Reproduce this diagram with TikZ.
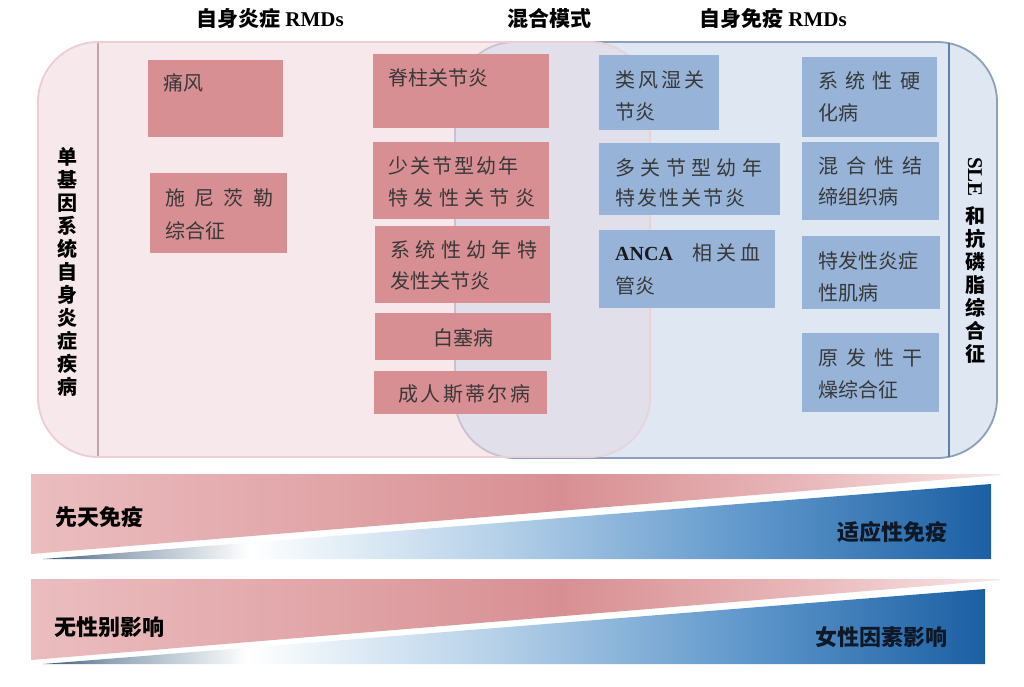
\documentclass[tikz,border=0pt]{standalone}
\usepackage{fontspec}
\setmainfont{Liberation Serif}
\newfontfamily\cjk{Noto Sans CJK SC}
\usetikzlibrary{calc}

\definecolor{regpink}{HTML}{F2D9DE}
\definecolor{regpinkb}{HTML}{EDCDD2}
\definecolor{regblue}{HTML}{DFE7F2}
\definecolor{regblueb}{HTML}{8C9FBC}
\definecolor{overlapc}{HTML}{DCE0EC}
\definecolor{pdivc}{HTML}{C7A3A8}
\definecolor{bdivc}{HTML}{5E7FA8}
\definecolor{boxpink}{HTML}{D88F93}
\definecolor{boxblue}{HTML}{97B4D8}
\definecolor{txtgray}{HTML}{383838}
\definecolor{bandtxt}{HTML}{0E1826}
\definecolor{pb1}{HTML}{EBBDBF}
\definecolor{pb2}{HTML}{E2A7AA}
\definecolor{pb3}{HTML}{D88F93}
\definecolor{pb4}{HTML}{E8B7B9}
\definecolor{pb5}{HTML}{F8E6E7}
\definecolor{bb1}{HTML}{3E5A78}
\definecolor{bb2}{HTML}{8FA3B5}
\definecolor{bb3}{HTML}{FFFFFF}
\definecolor{bb4}{HTML}{B5D0E8}
\definecolor{bb5}{HTML}{5F97CB}
\definecolor{bb6}{HTML}{1B5FA3}

\pgfdeclarehorizontalshading{pinkband}{100bp}{color(0bp)=(pb1); color(25bp)=(pb1); color(38.9bp)=(pb2); color(52.4bp)=(pb3); color(64.8bp)=(pb4); color(75bp)=(pb5); color(100bp)=(pb5)}
\pgfdeclarehorizontalshading{blueband}{100bp}{color(0bp)=(bb1); color(25bp)=(bb1); color(28.5bp)=(bb2); color(35.9bp)=(bb3); color(49.1bp)=(bb4); color(62.3bp)=(bb5); color(75bp)=(bb6); color(100bp)=(bb6)}

\newcommand\bxf{\cjk\fontsize{20}{24}\selectfont}
\newcommand\ttlf{\fontsize{21}{24}\selectfont\bfseries}
\newcommand\bandf{\cjk\bfseries\fontsize{22}{26}\selectfont}
\newcommand\vtf{\cjk\bfseries\fontsize{20}{23}\selectfont}
\newcommand\spr[2]{\makebox[#1pt][s]{#2}}

\begin{document}
\begin{tikzpicture}[x=1pt,y=-1pt,
  pbox/.style={fill=boxpink,draw=none,inner sep=0pt,outer sep=0pt,anchor=north west},
  bbox/.style={fill=boxblue,draw=none,inner sep=0pt,outer sep=0pt,anchor=north west},
  bt/.style={anchor=base west,inner sep=0pt,text=txtgray,font=\bxf},
  btc/.style={anchor=base,inner sep=0pt,text=txtgray,font=\bxf},
  ttl/.style={anchor=base,inner sep=0pt,text=black,font=\ttlf},
  bandl/.style={anchor=base west,inner sep=0pt,font=\bandf,text=black},
  bandr/.style={anchor=base east,inner sep=0pt,font=\bandf,text=bandtxt},
  region/.style={line width=1.8pt,rounded corners=60pt},
  pdiv/.style={draw=pdivc,line width=1.2pt},
  bdiv/.style={draw=bdivc,line width=1.2pt},
]
\useasboundingbox (0,0) rectangle (1024,686);
\fill[white] (0,0) rectangle (1024,686);

% titles
\node[ttl] (t1) at (270,26) {{\cjk\bfseries 自身炎症} RMDs};
\node[ttl] (t2) at (549,26) {{\cjk\bfseries 混合模式}};
\node[ttl] (t3) at (773,26) {{\cjk\bfseries 自身免疫} RMDs};

% regions
\draw[region,fill=regblue,draw=regblueb] (455,42) rectangle (997,458);
\draw[region,fill=regpink,fill opacity=0.6,draw=regpinkb] (38,42) rectangle (650,457);
\begin{scope}
  \clip[rounded corners=60pt] (38,42) rectangle (650,457);
  \fill[overlapc,fill opacity=0.6,rounded corners=60pt] (456,43) rectangle (996,457);
\end{scope}

% dividers
\coordinate (pd1) at (98,43);
\coordinate (pd2) at (98,456);
\coordinate (bd1) at (949,43);
\coordinate (bd2) at (949,457);
\draw[pdiv] (pd1) -- (pd2);
\draw[bdiv] (bd1) -- (bd2);

% side labels
\node[font=\vtf,align=center,inner sep=0pt,text=black] (lv) at (67,272)
  {单\\基\\因\\系\\统\\自\\身\\炎\\症\\疾\\病};
\node[rotate=-90,inner sep=0pt,font=\ttlf,text=black] (sle) at (975,177) {SLE};
\node[font=\vtf,align=center,inner sep=0pt,text=black] (rv) at (975,285)
  {和\\抗\\磷\\脂\\综\\合\\征};

% pink boxes
\node[pbox,minimum width=135pt,minimum height=77pt] (tf) at (148,60) {};
\node[bt] (tft) at (163,90) {痛风};
\node[pbox,minimum width=137pt,minimum height=80pt] (snc) at (150,173) {};
\node[bt] (snc1) at (165,205) {\spr{108}{施\hfill 尼\hfill 茨\hfill 勒}};
\node[bt] (snc2) at (165,238) {综合征};
\node[pbox,minimum width=176pt,minimum height=74pt] (jz) at (373,54) {};
\node[bt] (jzt) at (388,85) {脊柱关节炎};
\node[pbox,minimum width=176pt,minimum height=77pt] (sgj) at (373,142) {};
\node[bt] (sgj1) at (388,173) {\spr{130}{少\hfill 关\hfill 节\hfill 型\hfill 幼\hfill 年}};
\node[bt] (sgj2) at (388,205) {\spr{147}{特\hfill 发\hfill 性\hfill 关\hfill 节\hfill 炎}};
\node[pbox,minimum width=175pt,minimum height=77pt] (xt) at (375,226) {};
\node[bt] (xt1) at (390,257) {\spr{147}{系\hfill 统\hfill 性\hfill 幼\hfill 年\hfill 特}};
\node[bt] (xt2) at (390,288) {发性关节炎};
\node[pbox,minimum width=176pt,minimum height=47pt] (bs) at (375,313) {};
\node[btc] (bst) at (463,345) {白塞病};
\node[pbox,minimum width=173pt,minimum height=43pt] (cr) at (374,371) {};
\node[bt] (crt) at (398,401) {\spr{132}{成\hfill 人\hfill 斯\hfill 蒂\hfill 尔\hfill 病}};

% blue boxes
\node[bbox,minimum width=120pt,minimum height=75pt] (lf) at (599,55) {};
\node[bt] (lf1) at (615,87) {\spr{89}{类\hfill 风\hfill 湿\hfill 关}};
\node[bt] (lf2) at (615,119) {节炎};
\node[bbox,minimum width=181pt,minimum height=72pt] (dgj) at (599,143) {};
\node[bt] (dgj1) at (615,175) {\spr{147}{多\hfill 关\hfill 节\hfill 型\hfill 幼\hfill 年}};
\node[bt] (dgj2) at (615,205) {\spr{130}{特\hfill 发\hfill 性\hfill 关\hfill 节\hfill 炎}};
\node[bbox,minimum width=176pt,minimum height=78pt] (anca) at (599,230) {};
\node[bt] (anca1) at (615,260) {\makebox[145pt][l]{{\rmfamily\bfseries\color{black!90}ANCA}\hfill\spr{68}{相\hfill 关\hfill 血}}};
\node[bt] (anca2) at (615,293) {管炎};
\node[bbox,minimum width=135pt,minimum height=80pt] (xy) at (802,57) {};
\node[bt] (xy1) at (818,88) {\spr{102}{系\hfill 统\hfill 性\hfill 硬}};
\node[bt] (xy2) at (818,120) {化病};
\node[bbox,minimum width=137pt,minimum height=78pt] (hh) at (802,142) {};
\node[bt] (hh1) at (818,173) {\spr{104}{混\hfill 合\hfill 性\hfill 结}};
\node[bt] (hh2) at (818,204) {缔组织病};
\node[bbox,minimum width=138pt,minimum height=73pt] (tf2) at (802,236) {};
\node[bt] (tf21) at (818,268) {特发性炎症};
\node[bt] (tf22) at (818,300) {性肌病};
\node[bbox,minimum width=137pt,minimum height=79pt] (yf) at (802,333) {};
\node[bt] (yf1) at (818,365) {\spr{104}{原\hfill 发\hfill 性\hfill 干}};
\node[bt] (yf2) at (818,397) {燥综合征};

% gradient band 1
\shade[shading=pinkband] (31,474) -- (1000,474) -- (1000,475) -- (31,554) -- cycle;
\shade[shading=blueband] (43,559) -- (991,484) -- (991,559) -- cycle;
\node[bandl] (inn) at (55,525) {先天免疫};
\node[bandr] (adp) at (948,540) {适应性免疫};

% gradient band 2
\shade[shading=pinkband] (31,579) -- (1000,579) -- (1000,580) -- (31,660) -- cycle;
\shade[shading=blueband] (43,664) -- (985,589) -- (985,664) -- cycle;
\node[bandl] (nog) at (54,635) {无性别影响};
\node[bandr] (fem) at (948,645) {女性因素影响};
\end{tikzpicture}
\end{document}
